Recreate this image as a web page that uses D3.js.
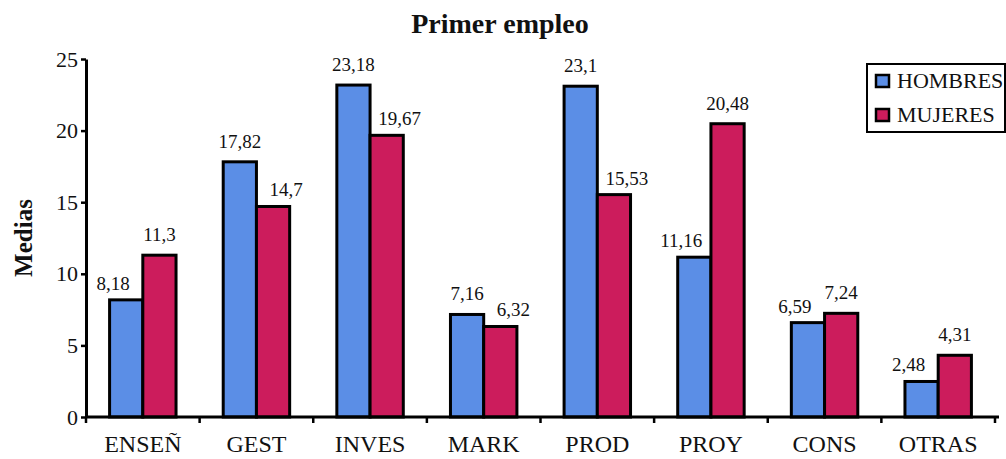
<!DOCTYPE html>
<html>
<head>
<meta charset="utf-8">
<script src="https://cdn.jsdelivr.net/npm/d3@7"></script>
<style>
  body { margin: 0; background: #fff; }
  text { font-family: "Liberation Serif", "Times New Roman", serif; fill: #111; }
</style>
</head>
<body>
<svg id="chart" width="1006" height="459"></svg>
<script>
var categories = ["ENSEÑ", "GEST", "INVES", "MARK", "PROD", "PROY", "CONS", "OTRAS"];
var series = ["HOMBRES", "MUJERES"];
var hombres = [8.18, 17.82, 23.18, 7.16, 23.1, 11.16, 6.59, 2.48];
var mujeres = [11.3, 14.7, 19.67, 6.32, 15.53, 20.48, 7.24, 4.31];
var hombresLabels = ["8,18", "17,82", "23,18", "7,16", "23,1", "11,16", "6,59", "2,48"];
var mujeresLabels = ["11,3", "14,7", "19,67", "6,32", "15,53", "20,48", "7,24", "4,31"];
var yTicks = [0, 5, 10, 15, 20, 25];

var colors = { HOMBRES: "#5b8ee6", MUJERES: "#cc1c5c" };

var cfg = {
  left: 86, right: 995, top: 59, bottom: 417
};

var svg = d3.select("#chart");

var x = d3.scaleBand()
  .domain(categories)
  .range([cfg.left, cfg.right])
  .paddingInner(0)
  .paddingOuter(0);

var x1 = d3.scaleBand()
  .domain(series)
  .range([0, x.bandwidth()])
  .paddingOuter(0.71)
  .paddingInner(0);

var y = d3.scaleLinear()
  .domain([0, 25])
  .range([cfg.bottom, cfg.top]);

// title
svg.append("text")
  .attr("x", 500)
  .attr("y", 33)
  .attr("text-anchor", "middle")
  .style("font-size", "28px")
  .style("font-weight", "bold")
  .text("Primer empleo");

// y label
svg.append("text")
  .attr("transform", "translate(32," + ((cfg.top + cfg.bottom) / 2) + ") rotate(-90)")
  .attr("text-anchor", "middle")
  .style("font-size", "25px")
  .style("font-weight", "bold")
  .text("Medias");

// data rows (the shorter bar of a pair gets its label nudged outward)
var rows = categories.map(function(c, i) {
  var hShort = hombres[i] < mujeres[i];
  return [
    { cat: c, key: "HOMBRES", v: hombres[i], label: hombresLabels[i], short: hShort, dir: -1 },
    { cat: c, key: "MUJERES", v: mujeres[i], label: mujeresLabels[i], short: !hShort, dir: 1 }
  ];
});

var groups = svg.append("g")
  .selectAll("g")
  .data(rows)
  .enter().append("g")
  .attr("transform", function(d) { return "translate(" + x(d[0].cat) + ",0)"; });

groups.selectAll("rect")
  .data(function(d) { return d; })
  .enter().append("rect")
  .attr("x", function(d) { return x1(d.key); })
  .attr("y", function(d) { return y(d.v); })
  .attr("width", x1.bandwidth())
  .attr("height", function(d) { return y(0) - y(d.v); })
  .attr("fill", function(d) { return colors[d.key]; })
  .attr("stroke", "#000")
  .attr("stroke-width", 3);

groups.selectAll("text")
  .data(function(d) { return d; })
  .enter().append("text")
  .attr("x", function(d) {
    return x1(d.key) + x1.bandwidth() / 2 + (d.short ? d.dir * 13 : 0);
  })
  .attr("y", function(d) { return y(d.v) - (d.short ? 10 : 14); })
  .attr("text-anchor", "middle")
  .style("font-size", "19px")
  .text(function(d) { return d.label; });

// y axis
var yAxis = svg.append("g")
  .attr("transform", "translate(" + cfg.left + ",0)")
  .call(d3.axisLeft(y).tickValues(yTicks).tickSize(5).tickPadding(3).tickSizeOuter(0));
yAxis.select(".domain").attr("stroke-width", 3);
yAxis.selectAll("line").attr("stroke-width", 2.5);
yAxis.selectAll("text")
  .style("font-size", "22px")
  .style("font-family", "Liberation Serif")
  .attr("fill", "#111");

// x axis: ticks at band boundaries
var xAxis = svg.append("g")
  .attr("transform", "translate(0," + cfg.bottom + ")");
xAxis.append("line")
  .attr("x1", cfg.left)
  .attr("x2", cfg.right + 4)
  .attr("stroke", "#000")
  .attr("stroke-width", 3);
var bounds = categories.map(function(c) { return x(c); }).concat([cfg.right]);
xAxis.selectAll("line.tick")
  .data(bounds)
  .enter().append("line")
  .attr("class", "tick")
  .attr("x1", function(d) { return d; })
  .attr("x2", function(d) { return d; })
  .attr("y1", 0)
  .attr("y2", 6)
  .attr("stroke", "#000")
  .attr("stroke-width", 2.5);
xAxis.selectAll("text")
  .data(categories)
  .enter().append("text")
  .attr("x", function(d) { return x(d) + x.bandwidth() / 2; })
  .attr("y", 35)
  .attr("text-anchor", "middle")
  .style("font-size", "24px")
  .text(function(d) { return d; });

// legend
var legend = svg.append("g").attr("transform", "translate(867,64)");
legend.append("rect")
  .attr("width", 138)
  .attr("height", 68)
  .attr("fill", "#fff")
  .attr("stroke", "#000")
  .attr("stroke-width", 2);
var li = legend.selectAll("g")
  .data(series)
  .enter().append("g")
  .attr("transform", function(d, i) { return "translate(9," + (11 + i * 34) + ")"; });
li.append("rect")
  .attr("width", 13)
  .attr("height", 12)
  .attr("fill", function(d) { return colors[d]; })
  .attr("stroke", "#000")
  .attr("stroke-width", 2.5);
li.append("text")
  .attr("x", 21)
  .attr("y", 13)
  .style("font-size", "22px")
  .text(function(d) { return d; });
</script>
</body>
</html>
